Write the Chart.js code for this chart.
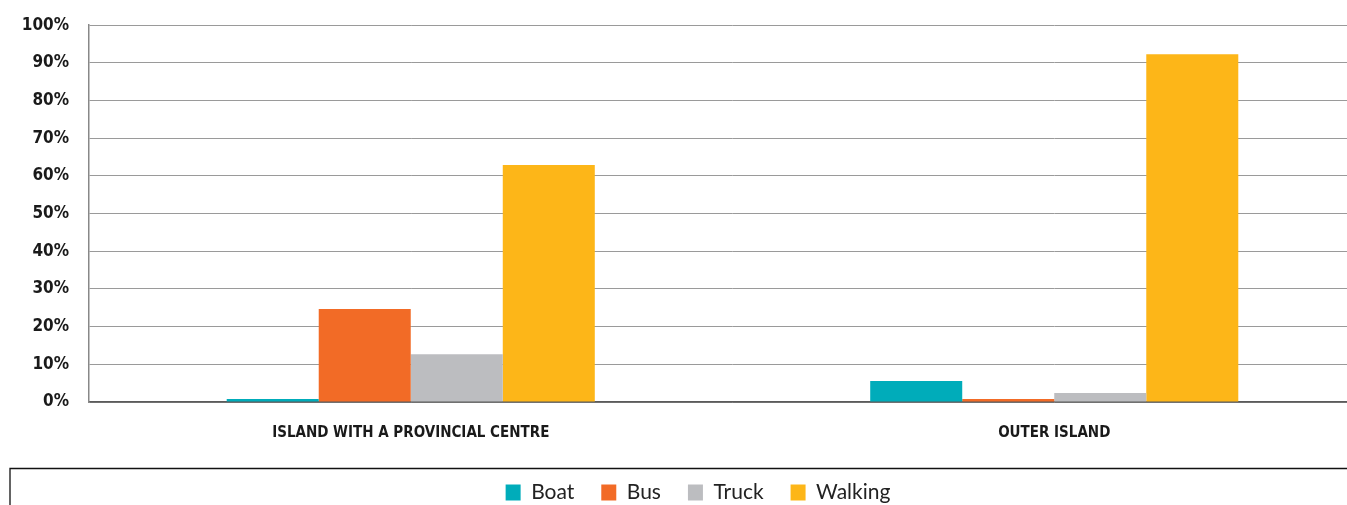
<!DOCTYPE html>
<html>
<head>
<meta charset="utf-8">
<script src="https://cdn.jsdelivr.net/npm/chart.js@4"></script>
<style>
  html, body { margin: 0; padding: 0; overflow: hidden; background: #fff; }
  #wrap { position: relative; top: -5px; width: 1376px; height: 521px; }
</style>
</head>
<body>
<div id="wrap"><canvas id="myChart"></canvas></div>
<script>
const categories = ["ISLAND WITH A PROVINCIAL CENTRE", "OUTER ISLAND"];
const boatValues = [0.8, 5.6];
const busValues = [24.7, 0.8];
const truckValues = [12.7, 2.4];
const walkingValues = [62.9, 92.3];
const yTicks = [0, 10, 20, 30, 40, 50, 60, 70, 80, 90, 100];

const condensed = "'DejaVu Sans Condensed', 'Liberation Sans Narrow', 'Roboto', sans-serif";

// box round the legend, open to the right and bottom like the original
const legendBox = {
    id: 'legendBox',
    afterDraw(chart){
        const ctx = chart.ctx;
        const top = Math.round(chart.legend.top + 13) + 0.5;
        ctx.save();
        ctx.strokeStyle = '#111';
        ctx.lineWidth = 1.3;
        ctx.beginPath();
        ctx.moveTo(chart.width + 5, top);
        ctx.lineTo(10, top);
        ctx.lineTo(10, chart.height + 5);
        ctx.stroke();
        ctx.restore();
    }
};

new Chart("myChart", {
    type: "bar",
    data: {
        labels: categories,
        datasets: [
            {label: "Boat", data: boatValues, backgroundColor: "#00ACBA"},
            {label: "Bus", data: busValues, backgroundColor: "#F26B26"},
            {label: "Truck", data: truckValues, backgroundColor: "#BCBDC0"},
            {label: "Walking", data: walkingValues, backgroundColor: "#FDB618"}
        ]
    },
    options: {
        responsive: true,
        maintainAspectRatio: false,
        animation: false,
        datasets: {bar: {categoryPercentage: 0.572, barPercentage: 1.0}},
        layout: {padding: {top: 15, left: 20, right: 0, bottom: 3}},
        plugins: {
            legend: {
                position: 'bottom',
                labels: {
                    boxWidth: 15,
                    boxHeight: 16,
                    padding: 27,
                    color: '#222',
                    font: {family: "'Lato', 'Open Sans', sans-serif", size: 21}
                }
            },
            tooltip: {enabled: false}
        },
        scales: {
            x: {
                z: 1,
                grid: {display: false},
                border: {color: 'rgba(50,50,50,0.8)', width: 1.5},
                ticks: {
                    padding: 14,
                    color: '#1a1a1a',
                    font: {family: condensed, size: 15, weight: 'bold'}
                },
                afterFit(scale){ scale.height = 53; }
            },
            y: {
                min: 0,
                max: 100,
                afterBuildTicks(scale){ scale.ticks = yTicks.map(v => ({value: v})); },
                grid: {color: '#9a9a9a', lineWidth: 1, drawTicks: false},
                border: {color: '#888', width: 1.5},
                ticks: {
                    padding: 20,
                    color: '#1a1a1a',
                    font: {family: condensed, size: 17, weight: 'bold'},
                    callback: v => v + '%'
                },
                afterFit(scale){ scale.width = 69; }
            }
        }
    },
    plugins: [legendBox]
});
</script>
</body>
</html>
